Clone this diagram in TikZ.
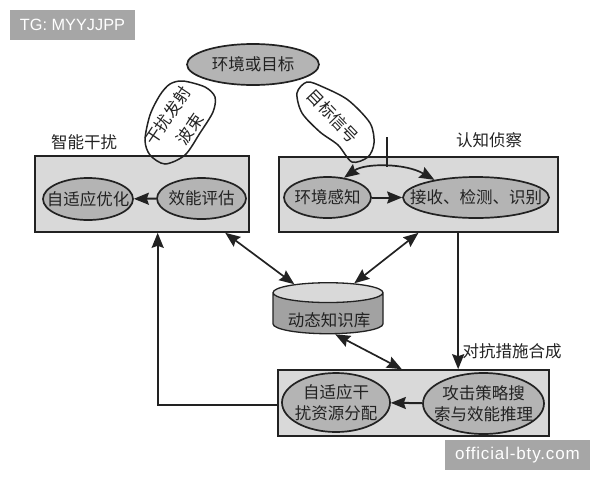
\documentclass[tikz,border=0pt]{standalone}
\usepackage{fontspec}
\setmainfont{Noto Sans CJK SC}
\setsansfont{Liberation Sans}
\usetikzlibrary{arrows.meta,shapes.geometric}

\definecolor{boxgray}{HTML}{D9D9D9}
\definecolor{ovalgray}{HTML}{B4B4B4}
\definecolor{inkgray}{HTML}{222222}
\definecolor{markgray}{HTML}{A6A6A6}

\tikzset{
  every node/.style={text=inkgray, font=\fontsize{16.5}{21.5}\selectfont, align=center, inner sep=0pt},
  panel/.style={draw=inkgray, line width=1.6pt, fill=boxgray, minimum width=#1},
  oval/.style={draw=inkgray, line width=1.7pt, fill=ovalgray, ellipse},
  blob/.style={draw=inkgray, line width=1.5pt},
  wire/.style={draw=inkgray, line width=2pt, line cap=rect},
  flow/.style={draw=inkgray, line width=2pt, -{Stealth[length=15pt,width=12pt,inset=2pt]}},
  both/.style={draw=inkgray, line width=1.7pt, {Stealth[length=15pt,width=12pt,inset=2pt]}-{Stealth[length=15pt,width=12pt,inset=2pt]}},
  mark/.style={fill=markgray, text=white, font=\sffamily\fontsize{#1}{#1}\selectfont}
}

\begin{document}
\begin{tikzpicture}[x=1pt,y=-1pt]
	\useasboundingbox (0,0) rectangle (600,480);

	%The top of the loop
	\node[oval, minimum width=132pt, minimum height=41pt, label=center:环境或目标] (scene) at (253,64.5) {};

	%The three panels
	\node[panel=214pt, minimum height=76pt] (jam) at (142,194) {};
	\node[panel=279pt, minimum height=75pt] (recon) at (418.5,194.5) {};
	\node[panel=271pt, minimum height=66pt] (synth) at (413.5,403) {};

	%The two beams
	\draw[blob] plot[smooth cycle] coordinates {(183,81) (205,87) (215,97) (213,112) (200,133) (185,155) (165,164) (150,155) (145,140) (150,115) (160,95) (170,84)};
	\draw[blob] plot[smooth cycle] coordinates {(307,82) (297,93) (302,113) (320,132) (338,145) (352,162) (368,157) (374,143) (370,123) (348,100) (323,87)};
	\node[rotate=56] (jambeam) at (168,116) {干扰发射};
	\node[rotate=56] (jambeamb) at (190,129) {波束};
	\node[rotate=-46] (echo) at (333,116) {目标信号};

	%Ovals in the panels
	\node[oval, minimum width=90pt, minimum height=42pt, label=center:自适应优化] (opt) at (88,199) {};
	\node[oval, minimum width=89pt, minimum height=41pt, label=center:效能评估] (eval) at (201.5,198.5) {};
	\node[oval, minimum width=87pt, minimum height=41pt, label=center:环境感知] (sense) at (327.5,197.5) {};
	\node[oval, minimum width=146pt, minimum height=41pt, label=center:接收、检测、识别] (detect) at (476,197.5) {};
	\node[oval, minimum width=108pt, minimum height=59pt, label={center:自适应干\\扰资源分配}] (alloc) at (336,402.5) {};
	\node[oval, minimum width=121pt, minimum height=61pt, label={center:攻击策略搜\\索与效能推理}] (attack) at (483.5,403.5) {};

	%The store
	\node[cylinder, shape border rotate=90, aspect=0.24, draw=inkgray, line width=1.3pt,
		cylinder uses custom fill, cylinder body fill=ovalgray!90!black, cylinder end fill=boxgray,
		minimum width=110pt, minimum height=51pt] (store) at (328,313.5) {\phantom{动态知识库}};
	\node (storelabel) at (329,320) {动态知识库};

	%Labels
	\node (jamlabel) at (84,142) {智能干扰};
	\node (reconlabel) at (489,140) {认知侦察};
	\node (measures) at (512,351) {对抗措施合成};

	%Arrows
	\draw[flow] (eval) -- (opt);
	\draw[flow] (sense) -- (detect);
	\draw[flow] (attack) -- (alloc);
	\coordinate (feed) at (387,137);
	\coordinate (arctop) at (387,167);
	\draw[both] (sense.50) .. controls (365,163) and (405,163) .. (detect.157);
	\draw[draw=inkgray, line width=1.3pt] (feed) -- (arctop);
	\draw[both] (jam.-25.4) -- (store.139.5);
	\draw[both] (recon.south) -- (store.49);
	\draw[both] (store.-71) -- (synth.109);
	\draw[flow] (recon.-44.3) -- (recon.-44.3 |- synth.north);
	\coordinate (corner) at (synth.181.3 -| jam.-68.5);
	\draw[wire] (synth.181.3) -- (corner);
	\draw[flow] (corner) -- (jam.-68.5);

	%Watermarks
	\node[mark=16.3, minimum width=125pt, minimum height=30pt] (tag) at (72.5,25) {TG: MYYJJPP};
	\node[mark=17, minimum width=145pt, minimum height=30pt] (site) at (517.5,455) {\addfontfeature{LetterSpace=5}official-bty.com};

\end{tikzpicture}
\end{document}
